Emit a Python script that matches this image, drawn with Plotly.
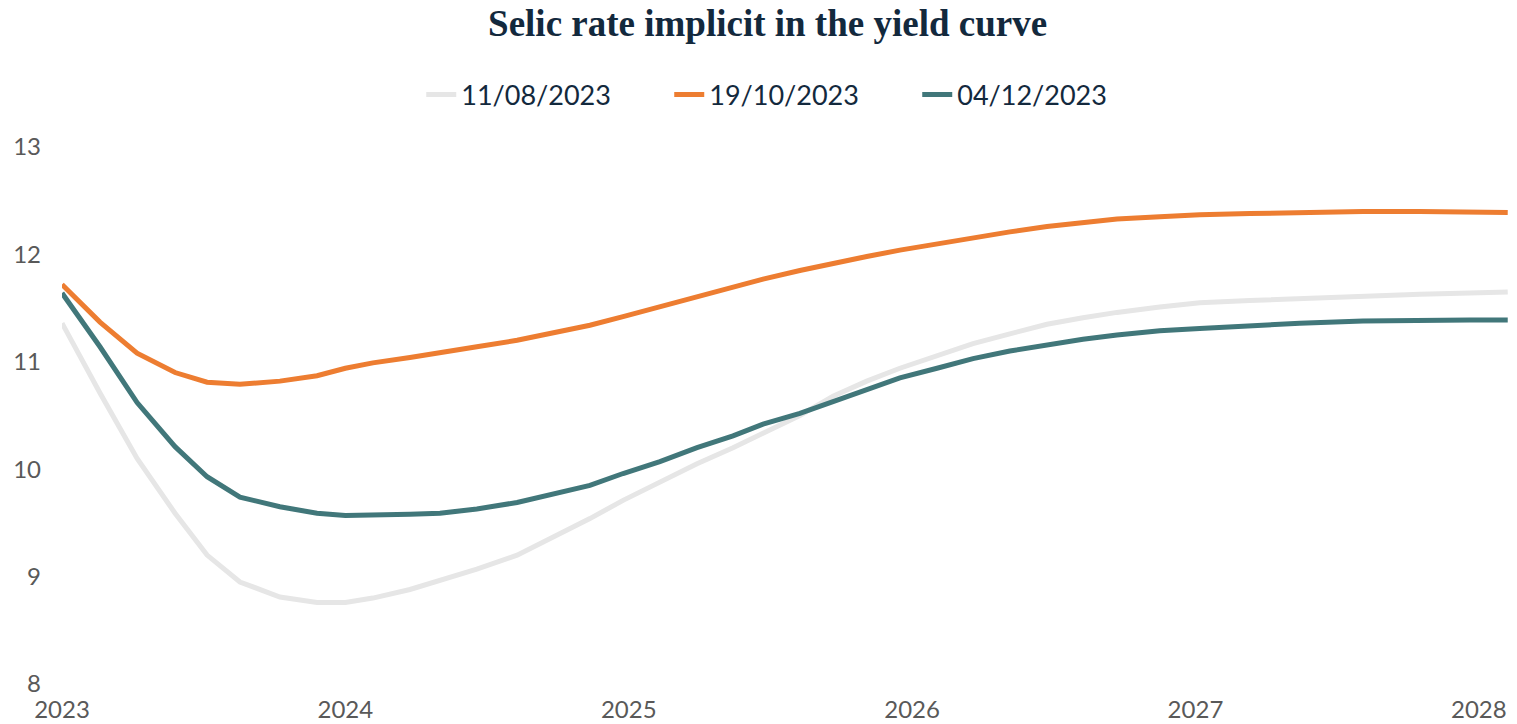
import plotly.graph_objects as go

# Maturity (decimal year) of each vertex of the implicit curve
maturity = [2023.00, 2023.134, 2023.265, 2023.399, 2023.512, 2023.628, 2023.769, 2023.900,
            2024.00, 2024.097, 2024.228, 2024.334, 2024.464, 2024.606, 2024.733, 2024.863,
            2024.980, 2025.110, 2025.241, 2025.368, 2025.474, 2025.604, 2025.721, 2025.840,
            2025.957, 2026.088, 2026.215, 2026.345, 2026.476, 2026.603, 2026.723, 2026.874,
            2027.015, 2027.192, 2027.368, 2027.591, 2027.792, 2027.968, 2028.102]

selic_11_08_2023 = [11.36, 10.71, 10.10, 9.59, 9.20, 8.95, 8.81, 8.76,
                    8.76, 8.80, 8.88, 8.96, 9.07, 9.20, 9.37, 9.54,
                    9.71, 9.88, 10.05, 10.20, 10.34, 10.50, 10.68, 10.82,
                    10.94, 11.06, 11.17, 11.26, 11.35, 11.41, 11.46, 11.51,
                    11.55, 11.57, 11.59, 11.61, 11.63, 11.64, 11.65]

selic_19_10_2023 = [11.72, 11.37, 11.08, 10.90, 10.81, 10.79, 10.82, 10.87,
                    10.94, 10.99, 11.04, 11.08, 11.14, 11.20, 11.27, 11.34,
                    11.42, 11.51, 11.61, 11.70, 11.77, 11.85, 11.92, 11.98,
                    12.04, 12.10, 12.16, 12.21, 12.26, 12.30, 12.33, 12.35,
                    12.37, 12.38, 12.39, 12.40, 12.40, 12.39, 12.39]

selic_04_12_2023 = [11.64, 11.14, 10.62, 10.21, 9.93, 9.74, 9.65, 9.59,
                    9.57, 9.57, 9.58, 9.59, 9.63, 9.69, 9.77, 9.85,
                    9.96, 10.07, 10.20, 10.31, 10.42, 10.52, 10.63, 10.74,
                    10.85, 10.94, 11.03, 11.10, 11.16, 11.21, 11.25, 11.29,
                    11.31, 11.34, 11.36, 11.38, 11.39, 11.39, 11.39]

series_names = ["11/08/2023", "19/10/2023", "04/12/2023"]
series_colors = ["#E6E6E6", "#ED7D31", "#41777A"]
year_ticks = [2023, 2024, 2025, 2026, 2027, 2028]
rate_ticks = [8, 9, 10, 11, 12, 13]

fig = go.Figure()
for name, vals, col in zip(series_names,
                           [selic_11_08_2023, selic_19_10_2023, selic_04_12_2023],
                           series_colors):
    fig.add_trace(go.Scatter(x=maturity, y=vals, mode="lines", name=name,
                             line=dict(color=col, width=5)))

fig.update_layout(
    width=1517, height=724,
    paper_bgcolor="white", plot_bgcolor="white",
    margin=dict(l=62, r=7, t=147, b=40),
    title=dict(text="<b>Selic rate implicit in the yield curve</b>",
               font=dict(family="Liberation Serif", size=37, color="#13293D"),
               x=0.506, xanchor="center", y=0.968, yanchor="middle", xref="container", yref="container"),
    legend=dict(orientation="h", x=0.505, xanchor="center", y=1.097, yanchor="middle",
                font=dict(family="Lato", size=27, color="#13293D"),
                entrywidth=203, entrywidthmode="pixels", tracegroupgap=0),
    showlegend=True,
    xaxis=dict(range=[2023, 2028.11], tickvals=year_ticks, ticktext=[str(y) for y in year_ticks],
               showgrid=False, zeroline=False, showline=False, ticks="", ticklabelstandoff=9,
               automargin=False,
               tickfont=dict(family="Lato", size=24, color="#595959")),
    yaxis=dict(range=[8, 13], tickvals=rate_ticks, showgrid=False, zeroline=False,
               showline=False, ticks="", ticklabelstandoff=20, automargin=False,
               tickfont=dict(family="Lato", size=24, color="#595959")),
)

fig.write_html("out.html")
